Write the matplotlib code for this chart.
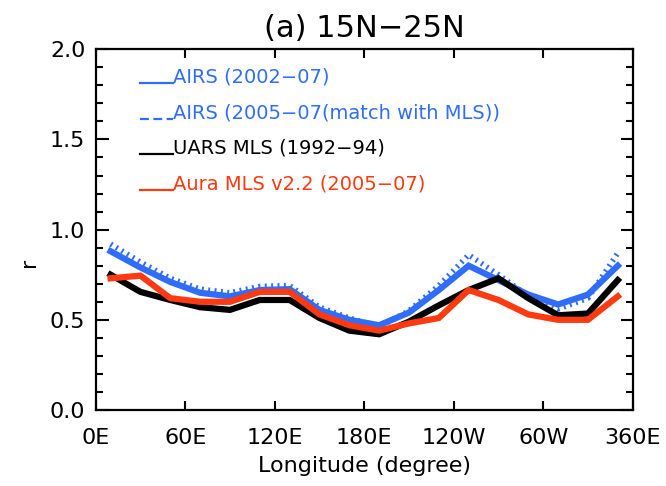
import matplotlib
matplotlib.use('Agg')
import matplotlib.pyplot as plt

# Data (longitude bin centres, correlation r)
lon = [10, 30, 50, 70, 90, 110, 130, 150, 170, 190, 210, 230, 250, 270, 290, 310, 330, 350]
airs_0207 = [0.88, 0.79, 0.71, 0.65, 0.63, 0.665, 0.67, 0.555, 0.50, 0.47, 0.54, 0.665, 0.80, 0.72, 0.64, 0.585, 0.64, 0.80]
airs_0507 = [0.92, 0.82, 0.73, 0.67, 0.65, 0.685, 0.69, 0.57, 0.51, 0.46, 0.55, 0.69, 0.86, 0.75, 0.63, 0.56, 0.62, 0.87]
uars_mls = [0.75, 0.655, 0.61, 0.57, 0.555, 0.61, 0.61, 0.51, 0.44, 0.42, 0.49, 0.58, 0.665, 0.73, 0.62, 0.525, 0.535, 0.72]
aura_mls = [0.73, 0.745, 0.62, 0.60, 0.60, 0.655, 0.655, 0.53, 0.47, 0.44, 0.48, 0.51, 0.665, 0.61, 0.53, 0.50, 0.50, 0.63]

xticks = [0, 60, 120, 180, 240, 300, 360]
xticklabels = ['0E', '60E', '120E', '180E', '120W', '60W', '360E']
yticks = [0.0, 0.5, 1.0, 1.5, 2.0]

blue = '#2f6dff'
red = '#ff3a10'

fig = plt.figure(figsize=(6.66, 4.86), dpi=100)
ax = fig.add_axes([0.1437, 0.1564, 0.8063, 0.7422])

# Plots
ax.plot(lon, airs_0507, color=blue, lw=4, linestyle=(0, (0.35, 0.8)), zorder=2)
ax.plot(lon, airs_0207, color=blue, lw=4.5, zorder=3, solid_joinstyle='miter')
ax.plot(lon, uars_mls, color='black', lw=4.5, zorder=4, solid_joinstyle='miter')
ax.plot(lon, aura_mls, color=red, lw=4.5, zorder=5, solid_joinstyle='miter')

ax.set_xlim(0, 360)
ax.set_ylim(0, 2.0)
ax.set_xticks(xticks)
ax.set_xticklabels(xticklabels)
ax.set_yticks(yticks)
ax.set_yticklabels([f'{v:.1f}' for v in yticks])
ax.set_yticks([i / 10 for i in range(21)], minor=True)

for s in ax.spines.values():
    s.set_linewidth(1.6)

ax.tick_params(axis='x', which='major', direction='in', top=True, length=6.5, width=1.5,
               pad=13, labelsize=16)
ax.tick_params(axis='y', which='major', direction='in', right=True, length=9, width=1.5,
               pad=7.5, labelsize=16)
ax.tick_params(axis='y', which='minor', direction='in', right=True, length=5, width=1.5)

ax.set_title('(a) 15N\u221225N', fontsize=22, pad=9)
ax.set_xlabel('Longitude (degree)', fontsize=16, labelpad=6)
ax.set_ylabel('r', fontsize=16)
ax.yaxis.set_label_coords(-0.105, 0.41)

# Legend drawn as IDL-style labels
legend_items = [
    ('AIRS (2002\u221207)', blue, '-', 0.9066),
    ('AIRS (2005\u221207(match with MLS))', blue, (0, (4, 2)), 0.8068),
    ('UARS MLS (1992\u221294)', 'black', '-', 0.7097),
    ('Aura MLS v2.2 (2005\u221207)', red, '-', 0.61),
]
for label, color, ls, y in legend_items:
    ax.plot([0.0825, 0.144], [y, y], transform=ax.transAxes, color=color, lw=1.6, linestyle=ls)
    ax.text(0.144, y, label, transform=ax.transAxes, color=color, fontsize=14,
            ha='left', va='baseline')

plt.savefig('out.png', dpi=100)
